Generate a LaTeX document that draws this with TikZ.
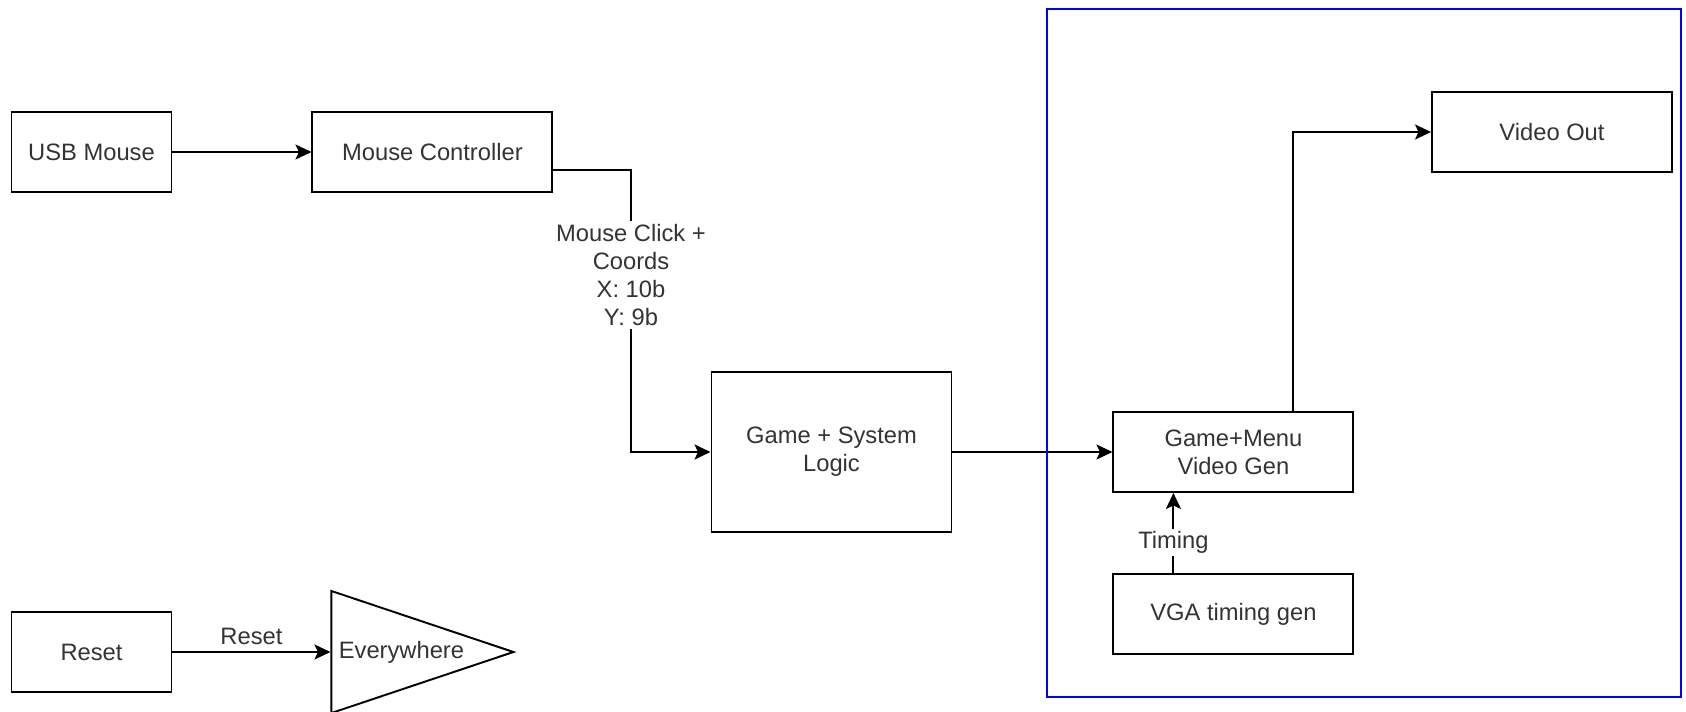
\documentclass[tikz,border=0pt]{standalone}
\usepackage{fontspec}
\setmainfont{Liberation Sans}
\usetikzlibrary{shapes.geometric, arrows.meta, positioning}
\definecolor{framblue}{RGB}{0, 0, 255}
\definecolor{labelgray}{RGB}{51, 51, 51}

\begin{document}
\begin{tikzpicture}[
        node distance=1.6cm,
        font=\fontsize{13.5}{15.9}\selectfont,
        block/.style={rectangle, draw=black, line width=1.1pt, minimum width=4.8cm, minimum height=1.6cm, align=center, text=labelgray},
        smallblock/.style={block, minimum width=3.2cm},
        flow/.style={-{Stealth[length=0.32cm, width=0.3cm, inset=0.07cm]}, line width=1.1pt},
        sigtag/.style={fill=white, inner sep=1.5pt, align=center, text=labelgray},
        vidframe/.style={draw=framblue, line width=1.3pt}
    ]
        \useasboundingbox (0,0) rectangle (33.72,14.22);

        % Blocks
        \node[smallblock] (usb) at (1.83,11.18) {USB Mouse};
        \node[block, right=2.78cm of usb] (mctrl) {Mouse Controller};
        \node[block, minimum height=3.2cm] (game) at (16.63,5.18) {Game + System\\Logic};
        \node[block, right=3.2cm of game] (menu) {Game+Menu\\Video Gen};
        \node[block, below=of menu] (vga) {VGA timing gen};
        \node[block] (vout) at (31.04,11.58) {Video Out};

        \node[smallblock] (reset) at (1.83,1.18) {Reset};
        \node[isosceles triangle, isosceles triangle stretches, draw, line width=1.1pt, minimum width=2.44cm, minimum height=3.64cm, inner sep=0pt, right=3.16cm of reset] (ev) {};
        \node[anchor=west, inner sep=0pt, text=labelgray] (evtxt) at ([xshift=0.16cm]ev.west) {Everywhere};

        % Signal label
        \coordinate (bend) at (12.62,10.82);
        \node[sigtag] (click) at (12.62,8.72) {Mouse Click +\\Coords\\X: 10b\\Y: 9b};

        % Connections
        \draw[flow] (usb) -- (mctrl);
        \draw[line width=1.1pt] (mctrl.east |- bend) -- (bend) -- (click.north);
        \draw[flow] (click.south) |- (game.west);
        \draw[flow] (game) -- (menu);
        \draw[flow] ([xshift=1.2cm]menu.north) |- (vout.west);
        \draw[flow] ([xshift=-1.2cm]vga.north) -- node[sigtag, pos=0.38] (timing) {Timing} ([xshift=-1.2cm]menu.south);
        \draw[flow] (reset) -- node[above, text=labelgray] (rstlbl) {Reset} (ev.west);

        % Video block frame
        \draw[vidframe] (20.94,0.28) rectangle (33.62,14.04);
    \end{tikzpicture}
\end{document}
